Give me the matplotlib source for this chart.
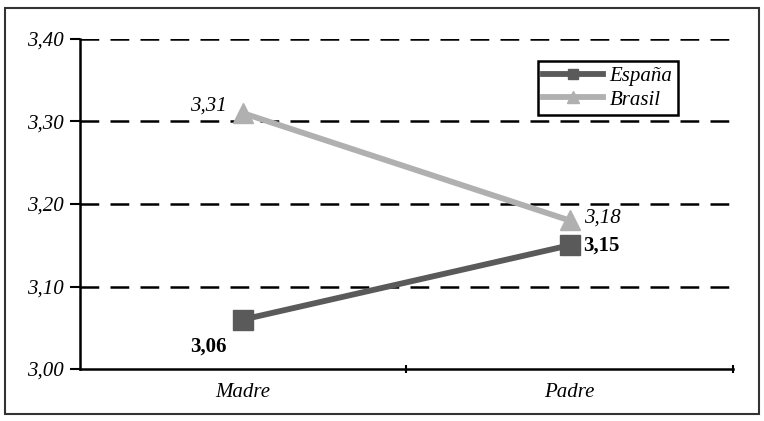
import matplotlib
matplotlib.use("Agg")
from matplotlib import pyplot as plt
from matplotlib.patches import Rectangle

categories = ["Madre", "Padre"]
espana = [3.06, 3.15]
brasil = [3.31, 3.18]
yticks = [3.00, 3.10, 3.20, 3.30, 3.40]

plt.rcParams["font.family"] = ["Liberation Serif", "DejaVu Serif"]

figure = plt.figure(figsize=(7.64, 4.21), dpi=100)
figure.add_artist(Rectangle((0.006, 0.017), 0.988, 0.965, transform=figure.transFigure,
                            fill=False, edgecolor="#333333", linewidth=1.5))

axes = figure.add_axes([0.1047, 0.1235, 0.8547, 0.7839])
xs = range(len(categories))

axes.plot(xs, espana, color="#5a5a5a", linewidth=4.2, marker="s", markersize=14,
          label="España", zorder=3)
axes.plot(xs, brasil, color="#b0b0b0", linewidth=4.2, marker="^", markersize=15,
          label="Brasil", zorder=3)

axes.set_xlim(-0.5, 1.5)
axes.set_ylim(3.0, 3.4)
axes.set_yticks(yticks)
axes.set_yticklabels([f"{v:.2f}".replace(".", ",") for v in yticks],
                     fontsize=15, style="italic")
axes.set_xticks(list(xs))
axes.set_xticklabels(categories, fontsize=15, style="italic")
axes.tick_params(axis="x", length=0, pad=10)
axes.set_xticks([0.5, 1.5], minor=True)
axes.tick_params(axis="x", which="minor", length=6, width=1.5, direction="inout")
axes.tick_params(axis="y", length=7, width=1.5, direction="out", pad=5)

for v in yticks[1:]:
    axes.axhline(v, color="black", linewidth=1.8, dashes=(7.5, 4.5), zorder=1)

for s in ["top", "right"]:
    axes.spines[s].set_visible(False)
for s in ["left", "bottom"]:
    axes.spines[s].set_linewidth(1.8)

def fmt(v):
    return f"{v:.2f}".replace(".", ",")

axes.annotate(fmt(brasil[0]), (0, brasil[0]), xytext=(-12, -2), textcoords="offset points",
              ha="right", va="bottom", fontsize=15, style="italic")
axes.annotate(fmt(espana[0]), (0, espana[0]), xytext=(-12, -12), textcoords="offset points",
              ha="right", va="top", fontsize=15, weight="bold")
axes.annotate(fmt(brasil[1]), (1, brasil[1]), xytext=(10, 2), textcoords="offset points",
              ha="left", va="center", fontsize=15, style="italic")
axes.annotate(fmt(espana[1]), (1, espana[1]), xytext=(10, 0), textcoords="offset points",
              ha="left", va="center", fontsize=15, weight="bold")

legend = axes.legend(loc="upper left", bbox_to_anchor=(0.701, 0.933), borderaxespad=0,
                     prop={"size": 15, "style": "italic"},
                     fancybox=False, edgecolor="black", framealpha=1, markerscale=0.55,
                     handlelength=2.9, handletextpad=0.3, borderpad=0.25, labelspacing=0.2)
legend.get_frame().set_linewidth(1.8)

figure.savefig("out.png", dpi=100)
